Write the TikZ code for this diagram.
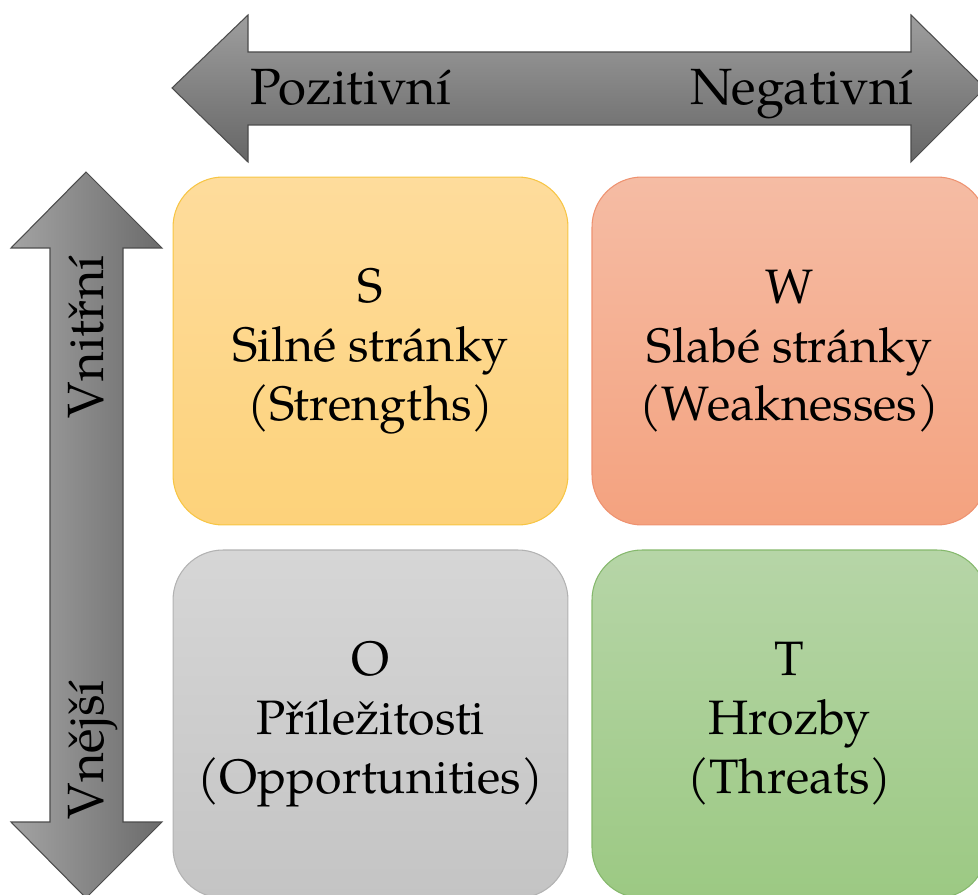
\documentclass[tikz,border=0pt]{standalone}
\usepackage{fontspec}
\setmainfont{TeX Gyre Pagella}
\usepackage{xcolor}
\usetikzlibrary{positioning,calc}

\definecolor{strTop}{HTML}{FEDC9C}
\definecolor{strBot}{HTML}{FDD27A}
\definecolor{strLine}{HTML}{F7C544}
\definecolor{weaTop}{HTML}{F5BCA4}
\definecolor{weaBot}{HTML}{F4A27F}
\definecolor{weaLine}{HTML}{EE9270}
\definecolor{oppTop}{HTML}{D6D6D6}
\definecolor{oppBot}{HTML}{C4C4C4}
\definecolor{oppLine}{HTML}{B2B2B2}
\definecolor{thrTop}{HTML}{B6D5A7}
\definecolor{thrBot}{HTML}{9CC983}
\definecolor{thrLine}{HTML}{85B86C}

\tikzset{
  quad/.style={rounded corners=1cm, minimum width=7.9cm, minimum height=6.96cm,
    align=center, font=\fontsize{27.5}{33.5}\selectfont, line width=0.6pt},
  axis arrow/.style={draw=black!70, line width=0.6pt},
  axis label/.style={font=\fontsize{29}{34}\selectfont, anchor=base}
}

\begin{document}
\begin{tikzpicture}[x=0.02cm, y=-0.02cm]
    \useasboundingbox (0,0) rectangle (978,895);
    % axis arrows
    \path[axis arrow, top color=black!38, bottom color=black!60]
      (172,88) -- (248,15) -- (248,52) -- (911,52) -- (911,15) -- (985,88)
      -- (911,162) -- (911,125) -- (248,125) -- (248,162) -- cycle;
    \path[axis arrow, left color=black!36, right color=black!58]
      (86,172) -- (162,248) -- (123,248) -- (123,822) -- (162,822) -- (86,898)
      -- (11,822) -- (50,822) -- (50,248) -- (11,248) -- cycle;
    \node[axis label] (poz) at (351,105) {Pozitivní};
    \node[axis label] (neg) at (802,105) {Negativní};
    \node[axis label, rotate=90] (vni) at (103,337) {Vnitřní};
    \node[axis label, rotate=90] (vne) at (103,750) {Vnější};
    % SWOT boxes
    \node[quad, draw=strLine, top color=strTop, bottom color=strBot] (S) at (370.5,351)
      {S\\Silné stránky\\(Strengths)};
    \node[quad, draw=weaLine, top color=weaTop, bottom color=weaBot, right=0.46cm of S] (W)
      {W\\Slabé stránky\\(Weaknesses)};
    \node[quad, draw=oppLine, top color=oppTop, bottom color=oppBot, below=0.48cm of S] (O)
      {O\\Příležitosti\\(Opportunities)};
    \node[quad, draw=thrLine, top color=thrTop, bottom color=thrBot, below=0.48cm of W] (T)
      {T\\Hrozby\\(Threats)};
\end{tikzpicture}
\end{document}
